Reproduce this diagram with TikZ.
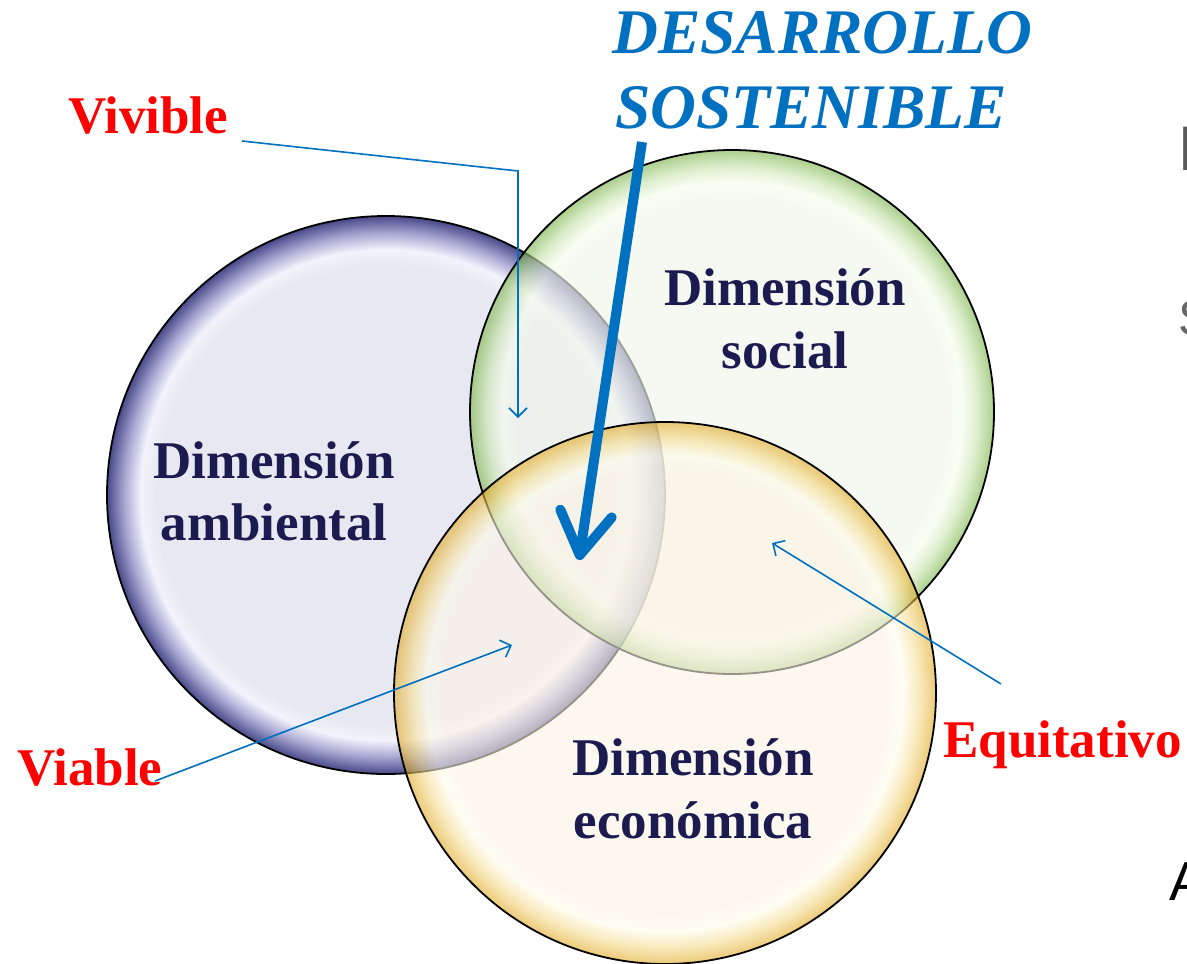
\documentclass[tikz,border=0pt]{standalone}
\usepackage{fontspec}
\setmainfont{Liberation Serif}
\setsansfont{Liberation Sans}
\usetikzlibrary{arrows.meta}
\definecolor{dsblue}{HTML}{0070C0}
\definecolor{dsred}{HTML}{FF0000}
\definecolor{dsnavy}{HTML}{1C1B4F}
\definecolor{ambin}{HTML}{E7E7F1}
\definecolor{ambhi}{HTML}{F2F2FC}
\definecolor{ambmid}{HTML}{A4A4D2}
\definecolor{ambedge}{HTML}{3A3A80}
\definecolor{socin}{HTML}{F1F7EB}
\definecolor{sochi}{HTML}{F6FDEE}
\definecolor{socmid}{HTML}{CDE6B4}
\definecolor{socedge}{HTML}{7FB650}
\definecolor{ecoin}{HTML}{FCF4E5}
\definecolor{ecohi}{HTML}{FFFCEB}
\definecolor{ecomid}{HTML}{F6DE94}
\definecolor{ecoedge}{HTML}{E0A820}
\pgfdeclareradialshading{ambshade}{\pgfpoint{0bp}{0bp}}{color(0bp)=(ambin); color(20.6bp)=(ambin); color(22bp)=(ambhi); color(23.4bp)=(ambmid); color(25bp)=(ambedge); color(50bp)=(ambedge)}
\pgfdeclareradialshading{socshade}{\pgfpoint{0bp}{0bp}}{color(0bp)=(socin); color(20.6bp)=(socin); color(22bp)=(sochi); color(23.4bp)=(socmid); color(25bp)=(socedge); color(50bp)=(socedge)}
\pgfdeclareradialshading{ecoshade}{\pgfpoint{0bp}{0bp}}{color(0bp)=(ecoin); color(20.6bp)=(ecoin); color(22bp)=(ecohi); color(23.4bp)=(ecomid); color(25bp)=(ecoedge); color(50bp)=(ecoedge)}
\tikzset{
  rim/.style={draw=black, line width=1.8pt},
  dimtext/.style={font=\fontsize{53}{63}\selectfont\bfseries, text=dsnavy, align=center, inner sep=0pt},
  redlabel/.style={font=\fontsize{53}{63}\selectfont\bfseries, text=dsred, inner sep=0pt, anchor=base west},
  titletext/.style={font=\fontsize{63.5}{72}\selectfont\bfseries\itshape, text=dsblue, inner sep=0pt, anchor=base west},
  thinarrow/.style={draw=dsblue, line width=1.6pt, -{Straight Barb[length=9pt,width=18pt]}},
  bigarrow/.style={draw=dsblue, line width=10pt, -{Straight Barb[length=42pt,width=52pt,round]}},
  edgefrag/.style={inner sep=0pt, anchor=base west, font=\sffamily}
}
\begin{document}
\begin{tikzpicture}[x=1pt,y=-1pt]
\useasboundingbox (0,0) rectangle (1187,964);
\clip (0,0) rectangle (1187,964);
\fill[white] (0,0) rectangle (1187,964);
% circles
\coordinate (amb) at (386,495);
\coordinate (soc) at (732,412);
\coordinate (eco) at (665,693);
\shade[shading=ambshade, fill opacity=0.92] (amb) circle[radius=279pt];
\draw[rim] (amb) circle[radius=279pt];
\shade[shading=socshade, fill opacity=0.65] (soc) circle[radius=262pt];
\draw[rim] (soc) circle[radius=262pt];
\shade[shading=ecoshade, fill opacity=0.6] (eco) circle[radius=271pt];
\draw[rim] (eco) circle[radius=271pt];
% dimension labels
\node[dimtext, anchor=base] (dsoc1) at (785,305) {Dimensión};
\node[dimtext, anchor=base] (dsoc2) at (785,368) {social};
\node[dimtext, anchor=base] (damb1) at (274,478) {Dimensión};
\node[dimtext, anchor=base] (damb2) at (274,540) {ambiental};
\node[dimtext, anchor=base] (deco1) at (693,775) {Dimensión};
\node[dimtext, anchor=base] (deco2) at (693,838) {económica};
% red labels
\node[redlabel] (vivible) at (68,133) {Vivible};
\node[redlabel] (viable) at (17,785) {Viable};
\node[redlabel] (equit) at (943,757) {Equitativo};
% title
\node[titletext] (t1) at (612,53) {DESARROLLO};
\node[titletext] (t2) at (615,128) {SOSTENIBLE};
% edge fragments of neighbouring text (cut by the picture edge, as in the reference)
\node[edgefrag, text=black!65, font=\fontsize{63}{70}\selectfont\sffamily] (fragE) at (1178,170) {E};
\node[edgefrag, text=black!60, font=\fontsize{50}{56}\selectfont\sffamily] (fragS) at (1178,335) {S};
\node[edgefrag, text=black, font=\fontsize{55}{60}\selectfont\sffamily] (fragA) at (1169,900) {A};
% connectors
\coordinate (vivS) at (242,141);
\coordinate (vivK) at (518,171);
\coordinate (vivT) at (518,418);
\draw[thinarrow] (vivS) -- (vivK) -- (vivT);
\coordinate (viaS) at (155,781);
\coordinate (viaT) at (512,645);
\draw[thinarrow] (viaS) -- (viaT);
\coordinate (equS) at (1001,684);
\coordinate (equT) at (772,543);
\draw[thinarrow] (equS) -- (equT);
\coordinate (bigS) at (642,142);
\coordinate (bigT) at (579,560);
\draw[bigarrow] (bigS) -- (bigT);
\end{tikzpicture}
\end{document}
